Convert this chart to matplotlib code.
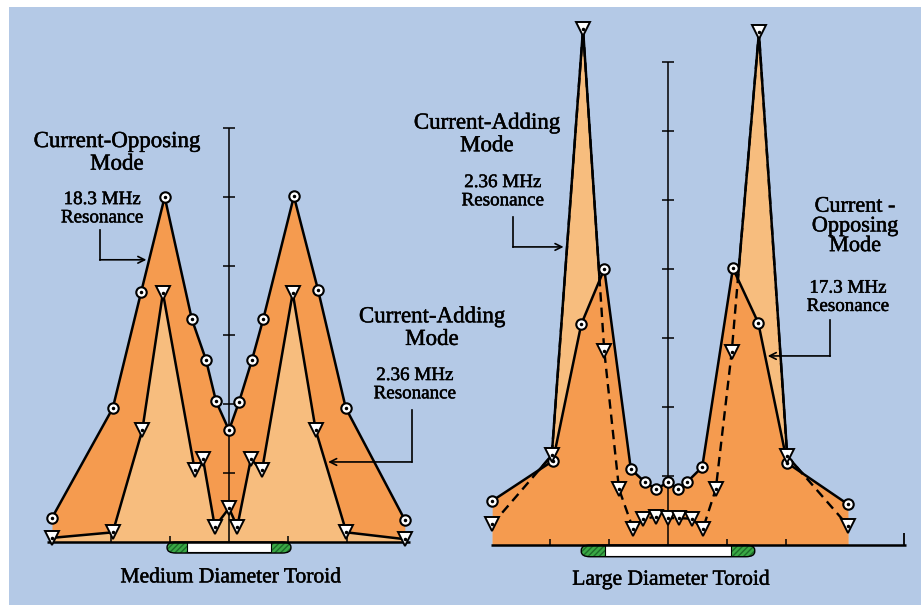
import matplotlib.pyplot as plt
import matplotlib.patheffects as pe
import numpy as np
from matplotlib.patches import FancyBboxPatch, Rectangle

W, H = 921, 605
BLUE = "#b4c9e6"
DARK = "#f59b4f"
LIGHT = "#f7bd7e"
GREEN = "#3aa845"
FONT = "Liberation Serif"

# Medium diameter toroid: circles = current-opposing, triangles = current-adding
med_circ_x = [-3.0, -1.97, -1.49, -1.09, -0.63, -0.39, -0.22, 0.0, 0.17, 0.39, 0.58, 1.10, 1.51, 1.98, 2.98]
med_circ_y = [0.35, 1.94, 3.62, 5.0, 3.23, 2.64, 2.04, 1.62, 2.03, 2.64, 3.23, 5.01, 3.65, 1.94, 0.32]
med_tri_x = [-3.0, -1.97, -1.47, -1.12, -0.58, -0.44, -0.24, 0.0, 0.14, 0.37, 0.56, 1.08, 1.47, 1.99, 2.99]
med_tri_y = [0.06, 0.14, 1.62, 3.61, 1.04, 1.20, 0.22, 0.49, 0.22, 1.20, 1.04, 3.61, 1.62, 0.14, 0.04]

# Large diameter toroid
lrg_circ_x = [-2.98, -1.95, -1.47, -1.08, -0.63, -0.39, -0.20, 0.0, 0.17, 0.32, 0.58, 1.10, 1.53, 2.02, 3.05]
lrg_circ_y = [0.64, 1.22, 3.20, 4.00, 1.10, 0.91, 0.81, 0.91, 0.81, 0.91, 1.13, 4.01, 3.22, 1.19, 0.59]
lrg_tri_x = [-2.98, -1.97, -1.44, -1.08, -0.83, -0.59, -0.42, -0.20, 0.0, 0.19, 0.41, 0.59, 0.81, 1.08, 1.54, 2.02, 3.05]
lrg_tri_y = [0.30, 1.30, 7.48, 2.81, 0.81, 0.23, 0.38, 0.41, 0.39, 0.39, 0.38, 0.23, 0.81, 2.80, 7.43, 1.29, 0.28]

# toroid cross sections: (outer half-width, inner half-width, depth)
med_toroid = (1.05, 0.72, 0.16)
lrg_toroid = (1.47, 1.06, 0.17)


def panel_axes(fig, cx_px, base_px, sx=59.0, sy=69.0):
    """Full-figure axes whose data origin sits at the given pixel."""
    ax = fig.add_axes([0, 0, 1, 1])
    ax.set_xlim(-cx_px / sx, (W - cx_px) / sx)
    ax.set_ylim(-(H - base_px) / sy, base_px / sy)
    ax.set_axis_off()
    ax.patch.set_alpha(0)
    return ax


def markers(ax, x, y, kind):
    if kind == "o":
        ax.plot(x, y, "o", ms=7.5, mfc="white", mec="black", mew=1.5, zorder=5)
    else:
        ax.plot(x, y, "v", ms=9.5, mfc="white", mec="black", mew=1.4, zorder=5)
    ax.plot(x, y, ".", ms=3, color="black", zorder=6)


def scale(ax, top, base_from, base_to, base_ticks):
    ax.vlines(0, 0, top, color="black", lw=1.1, zorder=2.5)
    ax.hlines(range(1, top + 1), -0.1, 0.1, color="black", lw=1.1, zorder=2.5)
    ax.hlines(0, base_from, base_to, color="black", lw=1.8, zorder=3)
    ax.vlines(base_ticks, 0, 0.09, color="black", lw=1.1, zorder=3)


def toroid(ax, spec):
    outer, inner, depth = spec
    box = dict(boxstyle="round,pad=0,rounding_size=0.15", mutation_aspect=0.5)
    ax.add_patch(FancyBboxPatch((-outer, -depth), 2 * outer, depth, fc=GREEN,
                                ec="none", zorder=2, **box))
    ax.add_patch(FancyBboxPatch((-outer, -depth), 2 * outer, depth, fc="none",
                                ec="#1d6b2a", lw=0, hatch="//////", zorder=2.1, **box))
    ax.add_patch(FancyBboxPatch((-outer, -depth), 2 * outer, depth, fc="none",
                                ec="black", lw=1.0, zorder=2.2, **box))
    ax.add_patch(Rectangle((-inner, -depth * 0.92), 2 * inner, depth * 0.92,
                           fc="white", ec="black", lw=0.8, zorder=2.3))


def label(ax, x, y, s, size, ls=1.1):
    ax.text(x, y, s, ha="center", va="center", fontsize=size, family=FONT,
            linespacing=ls, zorder=7,
            path_effects=[pe.withStroke(linewidth=0.35, foreground="black")])


def pointer(ax, x0, y_top, y_turn, x_tip):
    ax.plot([x0, x0], [y_top, y_turn], color="black", lw=1.2, zorder=4)
    ax.annotate("", xy=(x_tip, y_turn), xytext=(x0, y_turn),
                arrowprops=dict(arrowstyle="->", color="black", lw=1.2,
                                shrinkA=0, shrinkB=0, mutation_scale=12),
                zorder=4)


fig = plt.figure(figsize=(W / 100, H / 100), dpi=100, facecolor=BLUE)
fig.add_artist(Rectangle((0, 1 - 7 / H), 1, 7 / H, transform=fig.transFigure,
                         fc="white", ec="none", zorder=-1))
fig.add_artist(Rectangle((0, 0), 9 / W, 1, transform=fig.transFigure,
                         fc="white", ec="none", zorder=-1))

# ---- Medium diameter toroid ----
ax1 = panel_axes(fig, 229, 542)
ax1.fill_between(med_circ_x, med_circ_y, 0, color=DARK, lw=0, zorder=1)
ax1.fill_between(med_tri_x, med_tri_y, 0, color=LIGHT, lw=0, zorder=1.5)
scale(ax1, 6, -3.08, 3.06, [-2, -1, 1, 2])
ax1.plot(med_circ_x, med_circ_y, color="black", lw=1.8, zorder=3)
ax1.plot(med_tri_x, med_tri_y, color="black", lw=1.8, zorder=3)
markers(ax1, med_circ_x, med_circ_y, "o")
markers(ax1, med_tri_x, med_tri_y, "v")
toroid(ax1, med_toroid)

label(ax1, -1.9, 5.64, "Current-Opposing\nMode", 16.5)
label(ax1, -2.15, 4.83, "18.3 MHz\nResonance", 13.7)
pointer(ax1, -2.19, 4.52, 4.09, -1.40)
label(ax1, 3.44, 3.10, "Current-Adding\nMode", 16.5)
label(ax1, 3.15, 2.28, "2.36 MHz\nResonance", 13.7)
pointer(ax1, 3.10, 1.91, 1.16, 1.68)
label(ax1, 0.03, -0.52, "Medium Diameter Toroid", 15.5)

# ---- Large diameter toroid ----
ax2 = panel_axes(fig, 668, 545)
ax2.fill_between(lrg_tri_x, lrg_tri_y, 0, color=LIGHT, lw=0, zorder=1)
ax2.fill_between(lrg_circ_x, lrg_circ_y, 0, color=DARK, lw=0, zorder=1.5)
scale(ax2, 7, -3.0, 4.03, [-2, -1, 1, 2])
ax2.vlines(4.0, 0, 0.18, color="black", lw=1.3, zorder=3)
ax2.plot(lrg_circ_x, lrg_circ_y, color="black", lw=1.8, zorder=3)
ax2.plot(lrg_tri_x, lrg_tri_y, color="black", lw=1.7, ls=(0, (4, 2.5)), zorder=3)
# the adding-mode trace is drawn solid where it rises above the opposing-mode trace
xs = np.linspace(lrg_tri_x[0], lrg_tri_x[-1], 4000)
ti = np.interp(xs, lrg_tri_x, lrg_tri_y)
ci = np.interp(xs, lrg_circ_x, lrg_circ_y)
ax2.plot(xs, np.where(ti >= ci, ti, np.nan), color="black", lw=1.8, zorder=3.1)
markers(ax2, lrg_circ_x, lrg_circ_y, "o")
markers(ax2, lrg_tri_x, lrg_tri_y, "v")
toroid(ax2, lrg_toroid)

label(ax2, -3.07, 5.95, "Current-Adding\nMode", 16.5)
label(ax2, -2.80, 5.12, "2.36 MHz\nResonance", 13.7)
pointer(ax2, -2.63, 4.75, 4.32, -1.77)
label(ax2, 3.17, 4.61, "Current -\nOpposing\nMode", 16, ls=1.05)
label(ax2, 3.05, 3.59, "17.3 MHz\nResonance", 13.7)
pointer(ax2, 2.75, 3.26, 2.74, 1.69)
label(ax2, 0.05, -0.51, "Large Diameter Toroid", 15.5)

fig.savefig("out.png", dpi=100, facecolor=BLUE)
